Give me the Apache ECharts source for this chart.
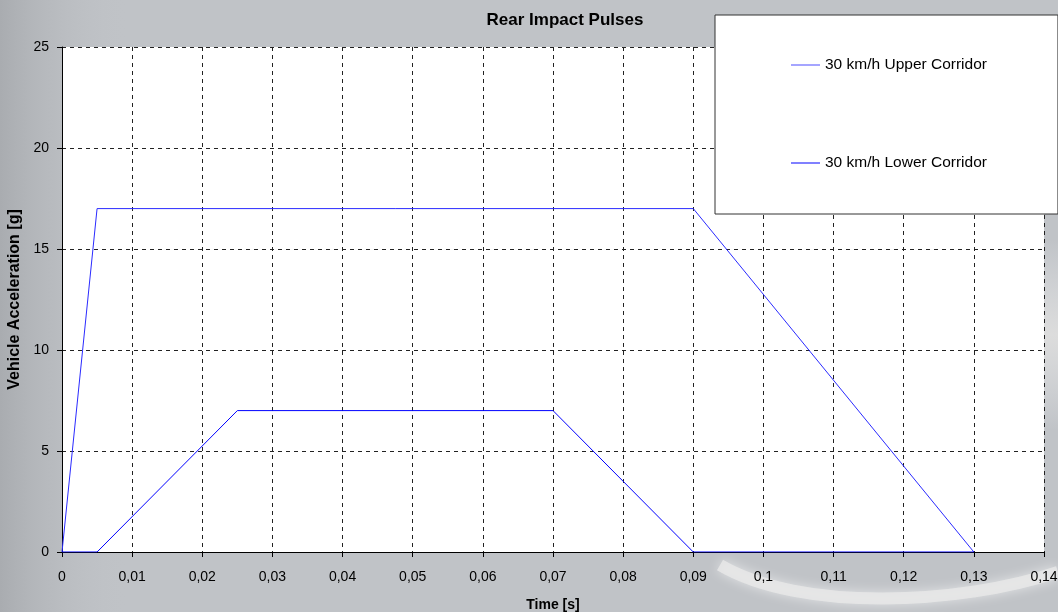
<!DOCTYPE html>
<html>
<head>
<meta charset="utf-8">
<script src="https://cdn.jsdelivr.net/npm/echarts@6/dist/echarts.min.js"></script>
<style>html,body{margin:0;padding:0;}#c{width:1058px;height:612px;}</style>
</head>
<body>
<div id="c"></div>
<script>
var seriesNames = ['30 km/h Upper Corridor', '30 km/h Lower Corridor'];
var upperTime = [0, 0.005, 0.09, 0.13];
var upperAcc = [0, 17, 17, 0];
var lowerTime = [0, 0.005, 0.025, 0.07, 0.09, 0.13];
var lowerAcc = [0, 0, 7, 7, 0, 0];
var chartTitle = 'Rear Impact Pulses';
var xName = 'Time [s]';
var yName = 'Vehicle Acceleration [g]';

function pairs(xs, ys) { return xs.map(function (x, i) { return [x, ys[i]]; }); }
var FONT = '"Liberation Sans", Arial, sans-serif';
var chart = echarts.init(document.getElementById('c'));
chart.setOption({
  backgroundColor: '#c0c3c7',
  textStyle: { fontFamily: FONT },
  graphic: [
    { type: 'rect', z: -10, shape: { x: 0, y: 0, width: 130, height: 612 },
      style: { fill: new echarts.graphic.LinearGradient(0, 0, 1, 0, [
        { offset: 0, color: '#a9acb0' }, { offset: 1, color: 'rgba(192,195,199,0)' }]) } },
    { type: 'rect', z: -10, shape: { x: 1040, y: 240, width: 18, height: 190 },
      style: { fill: new echarts.graphic.LinearGradient(0, 0, 0, 1, [
        { offset: 0, color: 'rgba(225,226,228,0)' }, { offset: 0.5, color: '#dcdcdc' }, { offset: 1, color: 'rgba(225,226,228,0)' }]) } },
    { type: 'bezierCurve', z: -10,
      shape: { x1: 720, y1: 565, cpx1: 800, cpy1: 612, cpx2: 960, cpy2: 605, x2: 1058, y2: 572 },
      style: { stroke: 'rgba(232,232,232,0.8)', lineWidth: 12, fill: null, shadowBlur: 12, shadowColor: 'rgba(255,255,255,0.7)' } }
  ],
  title: [
    { text: chartTitle, left: 560, top: 7, textAlign: 'center',
      textStyle: { fontSize: 17, fontWeight: 'bold', color: '#000', fontFamily: FONT } }
  ],
  legend: {
    orient: 'vertical', left: 715, top: 15,
    padding: [42, 71, 43, 76], itemGap: 82, itemWidth: 29, itemHeight: 1, icon: 'rect',
    backgroundColor: '#fff', borderColor: '#333', borderWidth: 1,
    textStyle: { fontSize: 15.5, color: '#000', fontFamily: FONT },
    data: seriesNames
  },
  grid: { left: 62, right: 14, top: 47, bottom: 60, show: true, backgroundColor: '#fff', borderWidth: 0,
    containLabel: false, outerBoundsMode: 'none' },
  xAxis: {
    type: 'value', min: 0, max: 0.14, interval: 0.01,
    name: xName, nameLocation: 'middle', nameGap: 46,
    nameTextStyle: { fontSize: 14, fontWeight: 'bold', color: '#000', fontFamily: FONT },
    axisLine: { show: true, lineStyle: { color: '#000', width: 1 } },
    axisTick: { show: true, length: 5, lineStyle: { color: '#000' } },
    axisLabel: { margin: 18, fontSize: 14, color: '#000', fontFamily: FONT,
      formatter: function (v) { return String(+v.toFixed(2)).replace('.', ','); } },
    splitLine: { show: true, lineStyle: { color: '#222', type: [4, 4], width: 1 } }
  },
  yAxis: {
    type: 'value', min: 0, max: 25, interval: 5,
    name: yName, nameLocation: 'middle', nameGap: 37,
    nameTextStyle: { fontSize: 16, fontWeight: 'bold', color: '#000', fontFamily: FONT },
    axisLine: { show: true, lineStyle: { color: '#000', width: 1 } },
    axisTick: { show: true, length: 5, lineStyle: { color: '#000' } },
    axisLabel: { margin: 13, fontSize: 14, color: '#000', fontFamily: FONT },
    splitLine: { show: true, lineStyle: { color: '#222', type: [4, 4], width: 1 } }
  },
  series: [
    { name: seriesNames[0], type: 'line', data: pairs(upperTime, upperAcc), symbol: 'none',
      lineStyle: { color: '#2a2aff', width: 1 }, itemStyle: { color: '#4a4aff' }, animation: false },
    { name: seriesNames[1], type: 'line', data: pairs(lowerTime, lowerAcc), symbol: 'none',
      lineStyle: { color: '#0000ff', width: 1 }, itemStyle: { color: '#0000ff' }, animation: false }
  ]
});
</script>
</body>
</html>
